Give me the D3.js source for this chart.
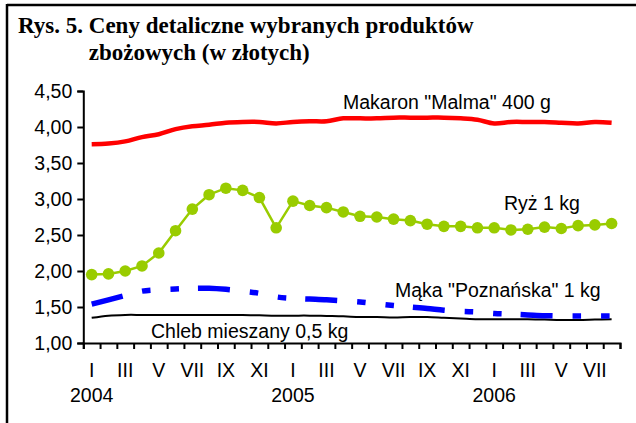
<!DOCTYPE html>
<html>
<head>
<meta charset="utf-8">
<script src="https://cdn.jsdelivr.net/npm/d3@7"></script>
<style>
  html, body { margin: 0; padding: 0; background: #fff; }
  svg { display: block; }
  text { font-family: "Liberation Sans", Arial, sans-serif; fill: #000; }
  .title { font-family: "Liberation Serif", "Times New Roman", serif; font-weight: bold; font-size: 23px; }
</style>
</head>
<body>
<svg id="chart" width="636" height="423"></svg>
<script>
// Months from January 2004 to August 2006
const months = ["I","II","III","IV","V","VI","VII","VIII","IX","X","XI","XII",
                "I","II","III","IV","V","VI","VII","VIII","IX","X","XI","XII",
                "I","II","III","IV","V","VI","VII","VIII"];
const yearLabels = [{ year: "2004", at: 0 }, { year: "2005", at: 12 }, { year: "2006", at: 24 }];
const yTicks = [1.0, 1.5, 2.0, 2.5, 3.0, 3.5, 4.0, 4.5];

// Retail prices (PLN)
const makaron = [3.76,3.77,3.80,3.86,3.90,3.97,4.01,4.03,4.06,4.07,4.07,4.05,
                 4.07,4.08,4.08,4.12,4.12,4.12,4.13,4.13,4.13,4.13,4.12,4.10,
                 4.05,4.07,4.07,4.07,4.06,4.05,4.07,4.06];
const ryz     = [1.95,1.96,2.00,2.07,2.25,2.56,2.86,3.06,3.15,3.12,3.02,2.60,
                 2.97,2.91,2.88,2.82,2.76,2.75,2.72,2.70,2.65,2.62,2.62,2.60,
                 2.60,2.57,2.58,2.61,2.59,2.63,2.64,2.66];
const maka    = [1.54,1.60,1.66,1.72,1.74,1.75,1.76,1.76,1.745,1.72,1.69,1.64,
                 1.62,1.61,1.60,1.585,1.57,1.545,1.52,1.50,1.48,1.455,1.44,1.43,
                 1.41,1.40,1.39,1.38,1.375,1.375,1.375,1.375];
const chleb   = [1.35,1.38,1.39,1.39,1.39,1.39,1.39,1.39,1.39,1.39,1.385,1.38,
                 1.38,1.38,1.375,1.37,1.36,1.36,1.355,1.36,1.36,1.35,1.34,1.33,
                 1.33,1.33,1.33,1.325,1.32,1.32,1.325,1.33];

const svg = d3.select("#chart");

// frame (top and left rules)
svg.append("line").attr("x1", 7).attr("x2", 636).attr("y1", 5).attr("y2", 5)
  .attr("stroke", "#000").attr("stroke-width", 2.5);
svg.append("line").attr("x1", 7).attr("x2", 7).attr("y1", 4).attr("y2", 423)
  .attr("stroke", "#000").attr("stroke-width", 2.5);

// title
const t1 = svg.append("text").attr("class", "title").attr("x", 18).attr("y", 33);
const lead = t1.append("tspan").text("Rys. 5. ");
t1.append("tspan").text("Ceny detaliczne wybranych produktów");
const indent = 18 + lead.node().getComputedTextLength();
svg.append("text").attr("class", "title").attr("x", indent).attr("y", 60)
  .text("zbożowych (w złotych)");

const plotLeft = 83.3, plotRight = 620, plotTop = 91, plotBottom = 343;
const x = d3.scaleBand().domain(d3.range(months.length)).range([plotLeft, plotRight]).paddingInner(0).paddingOuter(0);
const cx = i => x(i) + x.bandwidth() / 2;
const y = d3.scaleLinear().domain([1, 4.5]).range([plotBottom, plotTop]);

// y axis
const yAxis = d3.axisLeft(y).tickValues(yTicks).tickSize(6).tickPadding(5)
  .tickFormat(d => d3.format(".2f")(d).replace(".", ","));
const gy = svg.append("g").attr("transform", `translate(${plotLeft},0)`).call(yAxis);
gy.select(".domain").attr("stroke-width", 2);
gy.selectAll(".tick line").attr("stroke-width", 2);
gy.selectAll("text").style("font-size", "19.5px").attr("fill", "#000");

// x axis: ticks between months
const xb = d3.scaleLinear().domain([0, months.length]).range([plotLeft, plotRight]);
const xAxis = d3.axisBottom(xb).tickValues(d3.range(months.length + 1)).tickSize(6).tickFormat("");
const gx = svg.append("g").attr("transform", `translate(0,${plotBottom})`).call(xAxis);
gx.select(".domain").attr("stroke-width", 2);
gx.selectAll(".tick line").attr("stroke-width", 2);

svg.append("g").selectAll("text")
  .data(months.map((m, i) => ({ m, i })).filter(d => d.i % 2 === 0))
  .join("text")
  .attr("x", d => cx(d.i)).attr("y", 377)
  .attr("text-anchor", "middle").style("font-size", "19.5px")
  .text(d => d.m);

svg.append("g").selectAll("text")
  .data(yearLabels).join("text")
  .attr("x", d => cx(d.at)).attr("y", 402)
  .attr("text-anchor", "middle").style("font-size", "19.5px")
  .text(d => d.year);

// series
const smooth = d3.line().x((d, i) => cx(i)).y(d => y(d)).curve(d3.curveCatmullRom.alpha(0.5));
const straight = d3.line().x((d, i) => cx(i)).y(d => y(d));

svg.append("path").datum(chleb).attr("d", smooth)
  .attr("fill", "none").attr("stroke", "#000").attr("stroke-width", 2);

svg.append("path").datum(maka).attr("d", smooth)
  .attr("fill", "none").attr("stroke", "#0000FF").attr("stroke-width", 5.5)
  .attr("stroke-dasharray", "32,20,8.5,20,8.5,19");

svg.append("path").datum(makaron).attr("d", smooth)
  .attr("fill", "none").attr("stroke", "#FF0000").attr("stroke-width", 4.5)
  .attr("stroke-linejoin", "round");

svg.append("path").datum(ryz).attr("d", straight)
  .attr("fill", "none").attr("stroke", "#99CC00").attr("stroke-width", 2.5);
svg.append("g").selectAll("circle").data(ryz).join("circle")
  .attr("cx", (d, i) => cx(i)).attr("cy", d => y(d)).attr("r", 5.8)
  .attr("fill", "#99CC00");

// series labels
const labels = [
  { text: "Makaron \"Malma\" 400 g", x: 343, y: 109 },
  { text: "Ryż 1 kg", x: 504, y: 210 },
  { text: "Mąka \"Poznańska\" 1 kg", x: 395, y: 297 },
  { text: "Chleb mieszany 0,5 kg", x: 151, y: 338 }
];
svg.append("g").selectAll("text").data(labels).join("text")
  .attr("x", d => d.x).attr("y", d => d.y).style("font-size", "19.5px")
  .text(d => d.text);
</script>
</body>
</html>
